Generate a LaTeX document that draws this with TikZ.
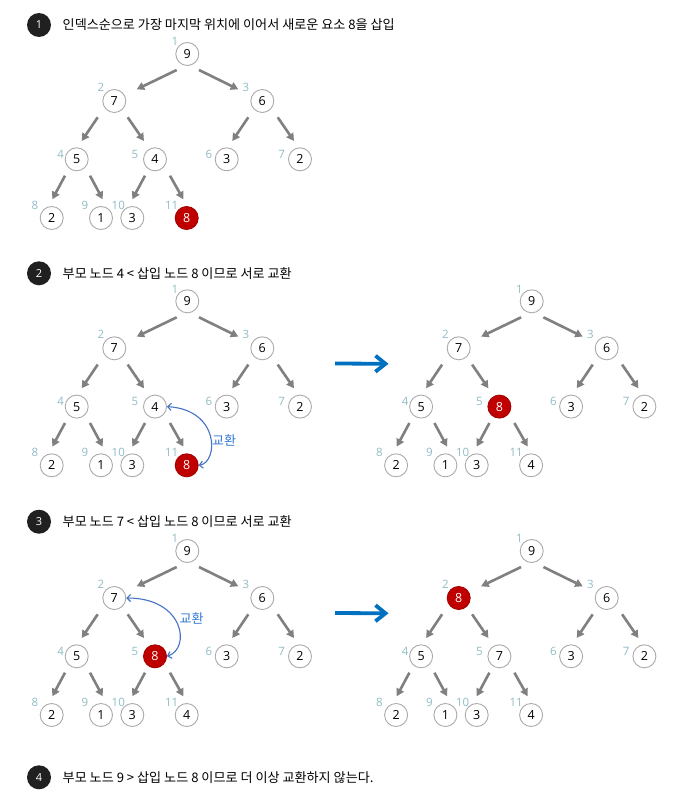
\documentclass[tikz,border=0pt]{standalone}
\usepackage{fontspec}
\setmainfont{Open Sans}
\newfontfamily\krfont{Noto Sans CJK KR}
\usetikzlibrary{arrows.meta}
\definecolor{redn}{RGB}{192,0,0}
\definecolor{ngray}{RGB}{170,170,170}
\definecolor{agray}{RGB}{128,128,128}
\definecolor{idxc}{RGB}{145,188,198}
\definecolor{bigblue}{RGB}{0,112,192}
\definecolor{swapblue}{RGB}{68,114,196}
\definecolor{swaptext}{RGB}{50,120,210}
\definecolor{stepc}{RGB}{32,32,32}
% base positions of the 11 heap slots (tree 1)
\expandafter\def\csname hpx1\endcsname{187.3}\expandafter\def\csname hpy1\endcsname{54}
\expandafter\def\csname hpx2\endcsname{114.3}\expandafter\def\csname hpy2\endcsname{101}
\expandafter\def\csname hpx3\endcsname{262.3}\expandafter\def\csname hpy3\endcsname{101}
\expandafter\def\csname hpx4\endcsname{76.7}\expandafter\def\csname hpy4\endcsname{159.3}
\expandafter\def\csname hpx5\endcsname{155}\expandafter\def\csname hpy5\endcsname{159.3}
\expandafter\def\csname hpx6\endcsname{226.7}\expandafter\def\csname hpy6\endcsname{159.3}
\expandafter\def\csname hpx7\endcsname{300}\expandafter\def\csname hpy7\endcsname{159.3}
\expandafter\def\csname hpx8\endcsname{51.7}\expandafter\def\csname hpy8\endcsname{218}
\expandafter\def\csname hpx9\endcsname{101}\expandafter\def\csname hpy9\endcsname{218}
\expandafter\def\csname hpx10\endcsname{132.3}\expandafter\def\csname hpy10\endcsname{218}
\expandafter\def\csname hpx11\endcsname{186.7}\expandafter\def\csname hpy11\endcsname{218}
% index label offsets
\expandafter\def\csname hoff1\endcsname{(-12.3,-12.3)}
\expandafter\def\csname hoff2\endcsname{(-13.3,-13.7)}
\expandafter\def\csname hoff3\endcsname{(-16.3,-13.7)}
\expandafter\def\csname hoff4\endcsname{(-16,-5.3)}
\expandafter\def\csname hoff5\endcsname{(-20,-5.3)}
\expandafter\def\csname hoff6\endcsname{(-17.7,-5.3)}
\expandafter\def\csname hoff7\endcsname{(-18.3,-5.3)}
\expandafter\def\csname hoff8\endcsname{(-16.7,-13)}
\expandafter\def\csname hoff9\endcsname{(-16,-13)}
\expandafter\def\csname hoff10\endcsname{(-14,-13)}
\expandafter\def\csname hoff11\endcsname{(-15,-13)}
\tikzset{
  wnode/.style={circle, draw=ngray, line width=0.9pt, fill=white, minimum size=23pt,
    inner sep=0pt, font=\fontsize{12.5}{13}\selectfont, text=black},
  rnode/.style={wnode, fill=redn, draw=redn!85!black, text=white},
  idx/.style={font=\fontsize{11.5}{12}\selectfont, text=idxc, inner sep=0pt},
  tarr/.style={draw=agray, line width=2.6pt, -{Triangle[length=7.5pt,width=8pt]}},
  bigarr/.style={draw=bigblue, line width=3.8pt, -{Straight Barb[length=10pt,width=16pt]}},
  swaparr/.style={draw=swapblue, line width=1.1pt,
    {Straight Barb[length=3.5pt,width=7pt]}-{Straight Barb[length=3.5pt,width=7pt]}},
  swaplbl/.style={font=\krfont\fontsize{13}{14}\selectfont, text=swaptext, inner sep=0pt},
  stepnum/.style={circle, fill=stepc, minimum size=24pt, inner sep=0pt, text=white,
    font=\fontsize{11}{12}\selectfont},
  hdr/.style={anchor=west, inner sep=0pt, font=\krfont\fontsize{13.1}{15}\selectfont, text=black},
}
\newcommand\heaptree[5]{% #1 prefix, #2 dx, #3 dy, #4 values, #5 red slot
  \foreach \v [count=\i] in {#4} {
    \ifnum\i=#5\relax\def\nst{rnode}\else\def\nst{wnode}\fi
    \node[\nst] (#1\i) at ({\csname hpx\i\endcsname+#2},{\csname hpy\i\endcsname+#3}) {\v};
    \node[idx] (#1l\i) at ([shift={\csname hoff\i\endcsname}]#1\i.center) {\i};
  }
  \foreach \p/\c/\s/\e in {
    1/2/{(-10.6,16)}/{(22.4,-11.7)},
    1/3/{(11.7,16)}/{(-24,-11.7)},
    2/4/{(-16.6,16.3)}/{(5,-18.3)},
    2/5/{(13.4,16.3)}/{(-11,-18.3)},
    3/6/{(-14,16.3)}/{(5.6,-18.3)},
    3/7/{(15.4,16.3)}/{(-6,-18.3)},
    4/8/{(-11.7,16.4)}/{(0.6,-18.7)},
    4/9/{(13.3,16.4)}/{(1.7,-18.7)},
    5/10/{(-10,16.4)}/{(0,-18.7)},
    5/11/{(15,16.4)}/{(-3.4,-18.7)}}
    \draw[tarr] ([shift=\s]#1\p.center) -- ([shift=\e]#1\c.center);
}
\begin{document}
\begin{tikzpicture}[x=1pt, y=-1pt]
\fill[white] (0,0) rectangle (678,800);
\useasboundingbox (0,0) rectangle (678,800);

% step 1
\node[stepnum] (s1) at (39,25) {1};
\node[hdr] (h1) at (62.5,25) {인덱스순으로 가장 마지막 위치에 이어서 새로운 요소 8을 삽입};
\heaptree{a}{0}{0}{9,7,6,5,4,3,2,2,1,3,8}{11}

% step 2
\node[stepnum] (s2) at (39,273.3) {2};
\node[hdr] (h2) at (62.5,273.3) {부모 노드 4 < 삽입 노드 8 이므로 서로 교환};
\heaptree{b}{0}{247.3}{9,7,6,5,4,3,2,2,1,3,8}{11}
\heaptree{c}{344.4}{247.3}{9,7,6,5,8,3,2,2,1,3,4}{5}
\draw[swaparr] (b11.east) .. controls +(19.6,-3) and +(53.3,3.3) .. (b5.east);
\node[swaplbl] (sw1) at (224,440) {교환};
\coordinate (ba1) at (335,363.5);
\coordinate (bb1) at (388.5,363.8);
\draw[bigarr] (ba1) -- (bb1);

% step 3
\node[stepnum] (s3) at (39,521.7) {3};
\node[hdr] (h3) at (62.5,521.7) {부모 노드 7 < 삽입 노드 8 이므로 서로 교환};
\heaptree{d}{0}{497}{9,7,6,5,8,3,2,2,1,3,4}{5}
\heaptree{e}{344.4}{497}{9,8,6,5,7,3,2,2,1,3,4}{2}
\draw[swaparr] (d5.east) .. controls +(24,-8) and +(58,0) .. (d2.east);
\node[swaplbl] (sw2) at (191.7,618.3) {교환};
\coordinate (ba2) at (335,613);
\coordinate (bb2) at (388.5,613.3);
\draw[bigarr] (ba2) -- (bb2);

% step 4
\node[stepnum] (s4) at (39,777.3) {4};
\node[hdr] (h4) at (62.5,777.3) {부모 노드 9 > 삽입 노드 8 이므로 더 이상 교환하지 않는다.};
\end{tikzpicture}
\end{document}
